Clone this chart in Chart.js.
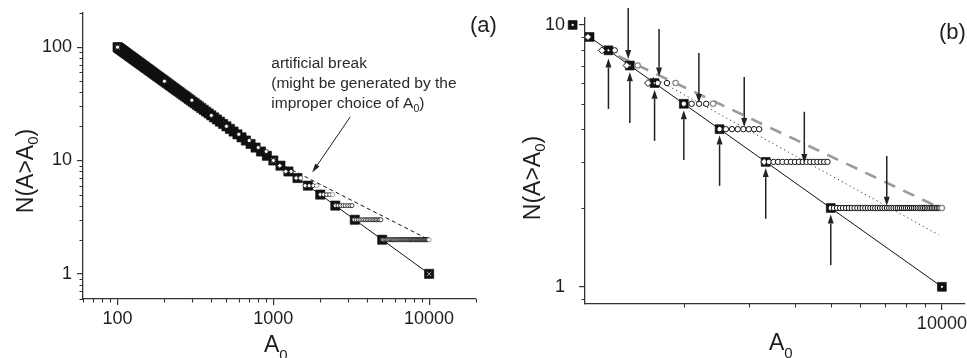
<!DOCTYPE html>
<html><head><meta charset="utf-8">
<script src="https://cdn.jsdelivr.net/npm/chart.js@4/dist/chart.umd.min.js"></script>
<style>
html,body{margin:0;padding:0;background:#fff;overflow:hidden;width:967px;height:358px}
#ca{position:absolute;left:0;top:0}
#cb{position:absolute;left:500px;top:0}
</style></head><body>
<canvas id="ca" width="500" height="358"></canvas>
<canvas id="cb" width="480" height="358"></canvas>
<script>
// ---------------- data ----------------
// ranked events: A = size of k-th event, N = rank k
const squareA = [10000,5000,3333.3,2500,2000,1666.7,1428.6,1250,1111.1,1000,909.1,833.3,769.2,714.3,666.7,625,588.2,555.6,526.3,500,476.2,454.5,434.8,416.7,400,384.6,370.4,357.1,344.8,333.3,322.6,312.5,303,294.1,285.7,277.8,270.3,263.2,256.4,250,243.9,238.1,232.6,227.3,222.2,217.4,212.8,208.3,204.1,200,196.1,192.3,188.7,185.2,181.8,178.6,175.4,172.4,169.5,166.7,163.9,161.3,158.7,156.3,153.8,151.5,149.3,147.1,144.9,142.9,140.8,138.9,137,135.1,133.3,131.6,129.9,128.2,126.6,125,123.5,122,120.5,119,117.6,116.3,114.9,113.6,112.4,111.1,109.9,108.7,107.5,106.4,105.3,104.2,103.1,102,101,100];
const squareN = [1,2,3,4,5,6,7,8,9,10,11,12,13,14,15,16,17,18,19,20,21,22,23,24,25,26,27,28,29,30,31,32,33,34,35,36,37,38,39,40,41,42,43,44,45,46,47,48,49,50,51,52,53,54,55,56,57,58,59,60,61,62,63,64,65,66,67,68,69,70,71,72,73,74,75,76,77,78,79,80,81,82,83,84,85,86,87,88,89,90,91,92,93,94,95,96,97,98,99,100];
// cumulative counts on a regular A0 grid (open circles)
const circleA = [100,200,300,400,500,600,700,800,900,1000,1300,1700,1800,2000,2100,2200,2300,2500,2600,2700,2800,2900,3000,3100,3200,3400,3500,3600,3700,3800,3900,4000,4100,4200,4300,4400,4500,4600,4700,4800,4900,5000,5100,5200,5300,5400,5500,5600,5700,5800,5900,6000,6100,6200,6300,6400,6500,6600,6700,6800,6900,7000,7100,7200,7300,7400,7500,7600,7700,7800,7900,8000,8100,8200,8300,8400,8500,8600,8700,8800,8900,9000,9100,9200,9300,9400,9500,9600,9700,9800,9900];
const circleN = [100,50,34,25,20,17,15,13,12,10,8,6,6,5,5,5,5,4,4,4,4,4,4,4,4,3,3,3,3,3,3,3,3,3,3,3,3,3,3,3,3,2,2,2,2,2,2,2,2,2,2,2,2,2,2,2,2,2,2,2,2,2,2,2,2,2,2,2,2,2,2,2,2,2,2,2,2,2,2,2,2,2,2,2,2,2,2,2,2,2,2];
const grayCircleA = [1500,1900,2400,10000];
const grayCircleN = [7,6,5,2];
const diamondA = [1100,1200,1400,1600,3300];
const diamondN = [9,8,7,6,3];
const decadeA = [100,1000,10000];
const decadeN = [100,10,1];
// fitted lines
const powerLineA = [100,10000];      const powerLineN = [100,1];
const breakLineA = [1000,10000];     const breakLineN = [10,2];
const grayDashA = [1330,9900];       const grayDashN = [7.6,2.0];
const dottedA = [1650,9800];         const dottedN = [6.3,1.58];
// arrows of panel (b)
const upArrowA = [1250,1428.6,1666.7,2000,2500,3333.3,5000];
const upArrowFromN = [4.78,4.22,3.61,3.05,2.43,1.82,1.21];
const upArrowToN = [7.45,6.6,5.66,4.72,3.78,2.84,1.89];
const downArrowA = [1414,1714,2197,2915,4240,7090];
const downArrowFromN = [11.6,9.65,7.82,6.33,4.66,3.16];
const downArrowToN = [7.42,6.35,5.04,4.08,2.97,2.04];
// ticks
const aXMajor = [100,1000,10000];
const aXMinor = [60,70,80,90,200,300,400,500,600,700,800,900,2000,3000,4000,5000,6000,7000,8000,9000,20000];
const aYMajor = [1,10,100];
const aYMinor = [0.6,0.7,0.8,0.9,2,3,4,5,6,7,8,9,20,30,40,50,60,70,80,90,200];
const bXMajor = [10000];
const bXMinor = [2000,3000,4000,5000,6000,7000,8000,9000];
const bYMajor = [1,10];
const bYMinor = [0.9,2,3,4,5,6,7,8,9];

// ---------------- styling ----------------
const FONT = '"Liberation Sans", Arial, Helvetica, sans-serif';
const INK = '#1e1e1e';
const AXIS = '#333333';

function pts(xs, ys){ return xs.map((x,i)=>({x:x, y:ys[i]})); }

const minorTicks = {
  id:'minorTicks',
  afterDraw(chart, args, opts){
    const ctx = chart.ctx, x = chart.scales.x, y = chart.scales.y;
    ctx.save(); ctx.strokeStyle = AXIS; ctx.lineWidth = 1.1; ctx.beginPath();
    (opts.xMinor||[]).forEach(v=>{ const p = Math.round(x.getPixelForValue(v))+0.5; ctx.moveTo(p, x.top); ctx.lineTo(p, x.top+opts.len); });
    (opts.yMinor||[]).forEach(v=>{ const p = Math.round(y.getPixelForValue(v))+0.5; ctx.moveTo(y.right, p); ctx.lineTo(y.right-opts.len, p); });
    ctx.stroke(); ctx.restore();
  }
};
Chart.register(minorTicks);

function logScale(isX, min, max, major, size, pad){
  return {
    type:'logarithmic', position: isX?'bottom':'left', min:min, max:max,
    grid:{display:true, drawOnChartArea:false, drawTicks:true, tickLength:6, color:AXIS, lineWidth:1.2},
    border:{display:true, color:AXIS, width:1.3},
    ticks:{autoSkip:false, maxRotation:0, minRotation:0, padding: pad, color:INK,
           font:{family:FONT, size:18}, callback:(v)=>String(v)},
    afterBuildTicks:(s)=>{ s.ticks = major.map(v=>({value:v})); },
    afterFit:(s)=>{
      if(isX) s.height = size; else s.width = size;
      s.paddingTop = 0; s.paddingBottom = 0; s.paddingLeft = 0; s.paddingRight = 0;
    }
  };
}

function pieces(ctx, parts){
  let w = 0;
  parts.forEach(p=>{ ctx.font = p[1]+'px '+FONT; w += ctx.measureText(p[0]).width; });
  return w;
}
function drawPieces(ctx, parts, x, y){
  let cx = x;
  parts.forEach(p=>{ ctx.font = p[1]+'px '+FONT; ctx.fillText(p[0], cx, y+(p[2]||0)); cx += ctx.measureText(p[0]).width; });
}
function arrow(ctx, x1, y1, x2, y2, hl, hw, lw){
  const a = Math.atan2(y2-y1, x2-x1);
  const bx = x2 - hl*Math.cos(a), by = y2 - hl*Math.sin(a);
  ctx.lineWidth = lw; ctx.beginPath(); ctx.moveTo(x1,y1); ctx.lineTo(bx,by); ctx.stroke();
  ctx.beginPath(); ctx.moveTo(x2,y2);
  ctx.lineTo(bx + hw/2*Math.sin(a), by - hw/2*Math.cos(a));
  ctx.lineTo(bx - hw/2*Math.sin(a), by + hw/2*Math.cos(a));
  ctx.closePath(); ctx.fill();
}
const yTitleParts = [['N(A>A',23,0],['0',15,5],[')',23,0]];
const xTitleParts = [['A',23,0],['0',15,8]];

const common = { responsive:false, animation:false, devicePixelRatio:1 };

// ---------------- panel (a) ----------------
const overlayA = {
  id:'overlayA',
  afterDatasetsDraw(chart){
    const ctx = chart.ctx, x = chart.scales.x, y = chart.scales.y;
    ctx.save(); ctx.strokeStyle = INK; ctx.textBaseline = 'alphabetic';
    const ax = x.getPixelForValue(970), ay = y.getPixelForValue(65.5);
    ctx.fillStyle = '#2a2a2a';
    drawPieces(ctx, [['artificial break',15.5,0]], ax, ay);
    drawPieces(ctx, [['(might be generated by the',15.5,0]], ax, ay+20);
    drawPieces(ctx, [['improper choice of A',15.5,0],['0',10.5,4],[')',15.5,0]], ax, ay+40);
    ctx.fillStyle = INK;
    arrow(ctx, x.getPixelForValue(3120), y.getPixelForValue(24.3), x.getPixelForValue(1778), y.getPixelForValue(7.85), 9, 5, 1);
    const w = pieces(ctx, yTitleParts);
    ctx.save(); ctx.translate(33, 171); ctx.rotate(-Math.PI/2); drawPieces(ctx, yTitleParts, -w/2, 0); ctx.restore();
    drawPieces(ctx, xTitleParts, 264, 352);
    drawPieces(ctx, [['(a)',22,0]], 470, 32);
    ctx.restore();
  }
};
new Chart(document.getElementById('ca'), {
  type:'scatter',
  data:{datasets:[
    {data:pts(powerLineA,powerLineN), showLine:true, borderColor:'#111', borderWidth:1, pointRadius:0, order:9},
    {data:pts(breakLineA,breakLineN), showLine:true, borderColor:'#111', borderWidth:1, borderDash:[4,3], pointRadius:0, order:8},
    {data:pts(squareA,squareN), pointStyle:'rect', pointRadius:6.5, backgroundColor:'#111', borderColor:'#111', borderWidth:0.6, order:6},
    {data:pts(decadeA,decadeN), pointStyle:'crossRot', pointRadius:3, borderColor:'#aaa', borderWidth:1, order:5},
    {data:pts(diamondA,diamondN), pointStyle:'rectRot', pointRadius:2.5, backgroundColor:'#fff', borderColor:'#111', borderWidth:0.8, order:4},
    {data:pts(circleA,circleN), pointStyle:'circle', pointRadius:2, backgroundColor:'#fff', borderColor:'#111', borderWidth:0.8, order:3},
    {data:pts(grayCircleA,grayCircleN), pointStyle:'circle', pointRadius:2, backgroundColor:'#fff', borderColor:'#888', borderWidth:0.8, order:2}
  ]},
  options:Object.assign({}, common, {
    layout:{padding:{left:0, top:13, right:24, bottom:0}},
    scales:{ x:logScale(true, 60, 20000, aXMajor, 59, 3), y:logScale(false, 0.6, 200, aYMajor, 83, 5) },
    plugins:{legend:{display:false}, tooltip:{enabled:false}, minorTicks:{xMinor:aXMinor, yMinor:aYMinor, len:3.5}}
  }),
  plugins:[overlayA]
});

// ---------------- panel (b) ----------------
const overlayB = {
  id:'overlayB',
  afterDatasetsDraw(chart){
    const ctx = chart.ctx, x = chart.scales.x, y = chart.scales.y, area = chart.chartArea;
    // squares just left of the axis (drawn outside the plot frame, as in the original)
    [3,4].forEach(di=>{
      chart.getDatasetMeta(di).data.forEach(el=>{
        if (el.x < area.left && el.x > area.left - 18 && el.y > area.top - 2 && el.y < area.bottom) el.draw(ctx);
      });
    });
    ctx.save(); ctx.fillStyle = '#222'; ctx.strokeStyle = '#222';
    upArrowA.forEach((a,i)=>{ const px = x.getPixelForValue(a);
      arrow(ctx, px, y.getPixelForValue(upArrowFromN[i]), px, y.getPixelForValue(upArrowToN[i]), 9, 6, 1.5); });
    downArrowA.forEach((a,i)=>{ const px = x.getPixelForValue(a);
      arrow(ctx, px, y.getPixelForValue(downArrowFromN[i]), px, y.getPixelForValue(downArrowToN[i]), 9, 6, 1.5); });
    ctx.fillStyle = INK; ctx.textBaseline = 'alphabetic';
    const w = pieces(ctx, yTitleParts);
    ctx.save(); ctx.translate(40, 178); ctx.rotate(-Math.PI/2); drawPieces(ctx, yTitleParts, -w/2, 0); ctx.restore();
    drawPieces(ctx, xTitleParts, 269, 350);
    drawPieces(ctx, [['(b)',22,0]], 439, 39);
    ctx.restore();
  }
};
new Chart(document.getElementById('cb'), {
  type:'scatter',
  data:{datasets:[
    {data:pts(powerLineA,powerLineN), showLine:true, borderColor:'#111', borderWidth:1, pointRadius:0, order:9},
    {data:pts(dottedA,dottedN), showLine:true, borderColor:'#333', borderWidth:1, borderDash:[1.2,3.2], pointRadius:0, order:8},
    {data:pts(grayDashA,grayDashN), showLine:true, borderColor:'#9a9a9a', borderWidth:2.6, borderDash:[12,9], pointRadius:0, order:7},
    {data:pts(squareA,squareN), pointStyle:'rect', pointRadius:6.3, backgroundColor:'#111', borderColor:'#111', borderWidth:0.6, order:6},
    {data:pts(squareA,squareN), pointStyle:'circle', pointRadius:1.1, backgroundColor:'#fff', borderColor:'#fff', borderWidth:0, order:5},
    {data:pts(diamondA,diamondN), pointStyle:'rectRot', pointRadius:3.5, backgroundColor:'#fff', borderColor:'#111', borderWidth:1, order:4},
    {data:pts(circleA,circleN), pointStyle:'circle', pointRadius:2.7, backgroundColor:'#fff', borderColor:'#111', borderWidth:1, order:3},
    {data:pts(grayCircleA,grayCircleN), pointStyle:'circle', pointRadius:2.7, backgroundColor:'#fff', borderColor:'#888', borderWidth:1.2, order:2}
  ]},
  options:Object.assign({}, common, {
    layout:{padding:{left:0, top:18, right:15, bottom:0}},
    scales:{ x:logScale(true, 1080, 11550, bXMajor, 54, 3), y:logScale(false, 0.86, 10.63, bYMajor, 85, 14) },
    plugins:{legend:{display:false}, tooltip:{enabled:false}, minorTicks:{xMinor:bXMinor, yMinor:bYMinor, len:3.5}}
  }),
  plugins:[overlayB]
});
</script>
</body></html>
